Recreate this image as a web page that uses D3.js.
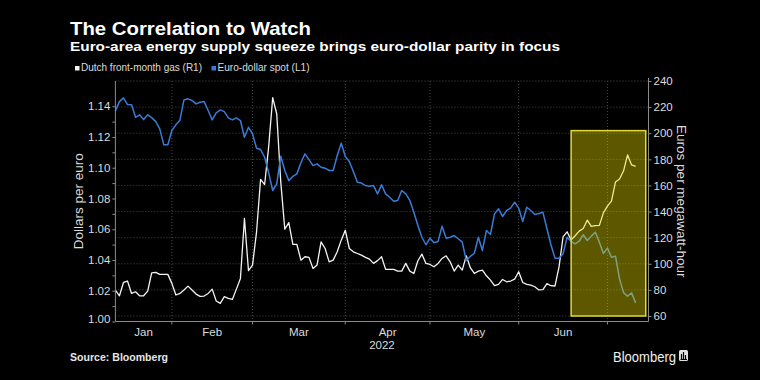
<!DOCTYPE html>
<html>
<head>
<meta charset="utf-8">
<script src="https://cdn.jsdelivr.net/npm/d3@7"></script>
<style>
  html, body { margin: 0; padding: 0; background: #000; }
  svg { display: block; }
  text { font-family: "Liberation Sans", Arial, sans-serif; }
</style>
</head>
<body>
<svg id="chart" width="760" height="380"></svg>
<script>
// Dutch front-month gas, euros per MWh (right axis), one value per trading day from Jan 11 2022
const gas = [
  79.9, 75.5, 85.7, 86.8, 77.3, 78.6, 75.5, 75.5, 79.1, 93.1,
  93.4, 91.9, 91.9, 91.9, 85.0, 76.1, 77.3, 79.9, 82.9, 79.9,
  76.8, 75.0, 75.3, 77.3, 80.6, 71.5, 69.7, 74.8, 73.5, 72.7,
  80.6, 88.8, 134.7, 94.7, 99.0, 124.5, 164.7, 160.7, 189.5, 227.2,
  214.9, 162.7, 126.5, 131.5, 114.8, 114.8, 102.8, 105.4, 104.9, 96.4,
  99.0, 116.8, 111.7, 101.5, 102.8, 109.2, 118.1, 125.7, 111.7, 109.2,
  107.9, 106.6, 104.9, 103.6, 100.3, 102.4, 105.4, 95.7, 95.7, 95.7,
  94.4, 94.4, 100.3, 94.4, 92.6, 102.3, 107.4, 100.3, 99.5, 97.7,
  100.3, 104.1, 106.1, 101.5, 94.4, 99.0, 95.2, 106.1, 97.0, 92.6,
  94.4, 95.2, 90.8, 87.5, 83.2, 84.2, 88.0, 86.2, 86.8, 88.3,
  93.9, 85.7, 84.2, 83.7, 82.4, 80.0, 80.2, 84.8, 83.2, 83.0,
  97.7, 120.6, 124.5, 118.3, 121.5, 125.0, 127.0, 133.4, 128.7, 129.3,
  129.4, 139.0, 144.2, 148.0, 162.7, 165.0, 171.2, 183.4, 175.7, 174.7
];
// Euro-dollar spot (left axis)
const eurusd = [
  1.1370, 1.1430, 1.1454, 1.1411, 1.1409, 1.1328, 1.1344, 1.1313, 1.1344, 1.1326,
  1.1300, 1.1253, 1.1149, 1.1149, 1.1242, 1.1279, 1.1309, 1.1441, 1.1448, 1.1437,
  1.1415, 1.1426, 1.1430, 1.1372, 1.1311, 1.1357, 1.1376, 1.1365, 1.1324, 1.1311,
  1.1324, 1.1307, 1.1198, 1.1263, 1.1220, 1.1127, 1.1118, 1.1068, 1.0967, 1.0852,
  1.0895, 1.1075, 1.0982, 1.0916, 1.0943, 1.0960, 1.1032, 1.1090, 1.1053, 1.1014,
  1.1025, 1.1003, 1.0997, 1.0982, 1.0982, 1.1079, 1.1159, 1.1073, 1.1040, 1.0975,
  1.0906, 1.0900, 1.0884, 1.0880, 1.0884, 1.0830, 1.0889, 1.0830, 1.0808, 1.0782,
  1.0787, 1.0852, 1.0830, 1.0787, 1.0711, 1.0624, 1.0548, 1.0499, 1.0542, 1.0512,
  1.0520, 1.0620, 1.0542, 1.0548, 1.0559, 1.0538, 1.0516, 1.0397, 1.0423, 1.0444,
  1.0548, 1.0462, 1.0592, 1.0566, 1.0700, 1.0733, 1.0683, 1.0722, 1.0737, 1.0776,
  1.0737, 1.0650, 1.0743, 1.0722, 1.0696, 1.0702, 1.0711, 1.0603, 1.0499, 1.0412,
  1.0412, 1.0440, 1.0548, 1.0520, 1.0505, 1.0522, 1.0564, 1.0527, 1.0555, 1.0581,
  1.0516, 1.0442, 1.0477, 1.0418, 1.0425, 1.0277, 1.0188, 1.0164, 1.0186, 1.0120
];
const startDate = "2022-01-11";
const monthNames = ["Jan", "Feb", "Mar", "Apr", "May", "Jun", "Jul", "Aug", "Sep", "Oct", "Nov", "Dec"];
const leftTicks = [1.00, 1.01, 1.02, 1.03, 1.04, 1.05, 1.06, 1.07, 1.08, 1.09, 1.10, 1.11, 1.12, 1.13, 1.14];
const rightTicks = [60, 80, 100, 120, 140, 160, 180, 200, 220, 240];
const highlight = { from: "2022-06-17", days: 18.5, low: 60, high: 202 };

const plot = { left: 115.4, right: 648.5, top: 81, bottom: 321.5 };
const svg = d3.select("#chart");

// trading days (weekdays) starting at startDate
const dates = [];
let day = d3.utcParse("%Y-%m-%d")(startDate);
while (dates.length < gas.length) {
  if (day.getUTCDay() !== 0 && day.getUTCDay() !== 6) dates.push(day);
  day = d3.utcDay.offset(day, 1);
}

const pxPerDay = 4.033;
const x = d3.scaleLinear()
  .domain([0, (plot.right - plot.left) / pxPerDay])
  .range([plot.left, plot.right]);
const yL = d3.scaleLinear().domain([1.0, 1.1564]).range([plot.bottom, plot.top]);
const yR = d3.scaleLinear().domain([55.8, 240]).range([plot.bottom, plot.top]);

// month boundaries sit on the last trading day of each month
const bounds = [];
for (let i = 1; i < dates.length; i++) {
  if (dates[i].getUTCMonth() !== dates[i - 1].getUTCMonth()) bounds.push(i - 1);
}

// grid
const grid = svg.append("g");
grid.selectAll(".hg")
  .data(rightTicks)
  .enter()
  .append("line")
  .attr("x1", plot.left)
  .attr("x2", plot.right)
  .attr("y1", d => yR(d))
  .attr("y2", d => yR(d))
  .attr("stroke", "#5a5a5a")
  .attr("stroke-width", 0.8)
  .attr("stroke-dasharray", "1,2");
grid.selectAll(".vg")
  .data(bounds)
  .enter()
  .append("line")
  .attr("x1", d => x(d))
  .attr("x2", d => x(d))
  .attr("y1", plot.top)
  .attr("y2", plot.bottom)
  .attr("stroke", "#5a5a5a")
  .attr("stroke-width", 0.8)
  .attr("stroke-dasharray", "1,2");

// lines
const gasLine = d3.line().x((d, i) => x(i)).y(d => yR(d));
const fxLine = d3.line().x((d, i) => x(i)).y(d => yL(d));
svg.append("path")
  .datum(gas)
  .attr("d", gasLine)
  .attr("fill", "none")
  .attr("stroke", "#f4f4f4")
  .attr("stroke-width", 1.3)
  .attr("stroke-linejoin", "round");
svg.append("path")
  .datum(eurusd)
  .attr("d", fxLine)
  .attr("fill", "none")
  .attr("stroke", "#3a7bd5")
  .attr("stroke-width", 1.5)
  .attr("stroke-linejoin", "round");

// highlight box
const hStart = dates.findIndex(d => d3.utcFormat("%Y-%m-%d")(d) === highlight.from);
svg.append("rect")
  .attr("x", x(hStart))
  .attr("y", yR(highlight.high))
  .attr("width", x(hStart + highlight.days) - x(hStart))
  .attr("height", yR(highlight.low) - yR(highlight.high))
  .attr("fill", "rgb(232,218,0)")
  .attr("fill-opacity", 0.4)
  .attr("stroke", "#e2da3c")
  .attr("stroke-width", 1.5);

// axes
const axisColor = "#8a8a8a";
const tickText = "#dcdcdc";
const tickFont = "11.5px";

const leftAxis = svg.append("g")
  .attr("transform", "translate(" + plot.left + ",0)")
  .call(d3.axisLeft(yL)
    .tickValues(leftTicks)
    .tickSize(3)
    .tickPadding(2)
    .tickFormat(d => Math.round(d * 100) % 2 === 0 ? d3.format(".2f")(d) : ""));
leftAxis.select(".domain").attr("d", "M0," + plot.top + "V" + plot.bottom);

const rightAxis = svg.append("g")
  .attr("transform", "translate(" + plot.right + ",0)")
  .call(d3.axisRight(yR).tickValues(rightTicks).tickSize(3).tickPadding(2));
rightAxis.select(".domain").attr("d", "M0," + (plot.top - 3) + "V" + plot.bottom);

[leftAxis, rightAxis].forEach(g => {
  g.selectAll(".domain").attr("stroke", axisColor);
  g.selectAll(".tick line").attr("stroke", axisColor);
  g.selectAll(".tick text")
    .attr("fill", tickText)
    .style("font-family", "'Liberation Sans', sans-serif")
    .style("font-size", tickFont);
});
leftAxis.selectAll(".tick text").filter(d => d === 1.0).attr("dy", "0.05em");

// bottom axis
const bottom = svg.append("g");
bottom.append("line")
  .attr("x1", plot.left).attr("x2", plot.right)
  .attr("y1", plot.bottom).attr("y2", plot.bottom)
  .attr("stroke", axisColor);
bottom.selectAll(".bt")
  .data(bounds)
  .enter()
  .append("line")
  .attr("x1", d => x(d)).attr("x2", d => x(d))
  .attr("y1", plot.bottom).attr("y2", plot.bottom + 3)
  .attr("stroke", axisColor);

const edges = [x.domain()[0]].concat(bounds, [x.domain()[1]]);
const segs = [];
for (let k = 0; k < edges.length - 1; k++) {
  const idx = Math.min(Math.ceil(edges[k] + 0.5), dates.length - 1);
  segs.push({ a: edges[k], b: edges[k + 1], m: dates[idx].getUTCMonth() });
}
bottom.selectAll(".ml")
  .data(segs.filter(s => s.b - s.a > 12))
  .enter()
  .append("text")
  .attr("x", s => (x(s.a) + x(s.b)) / 2)
  .attr("y", 335.5)
  .attr("text-anchor", "middle")
  .attr("fill", tickText)
  .style("font-size", tickFont)
  .text(s => monthNames[s.m]);
bottom.append("text")
  .attr("x", (plot.left + plot.right) / 2)
  .attr("y", 349)
  .attr("text-anchor", "middle")
  .attr("fill", tickText)
  .style("font-size", tickFont)
  .text(d3.utcFormat("%Y")(dates[0]));

// axis titles
svg.append("text")
  .attr("transform", "translate(83," + ((plot.top + plot.bottom) / 2) + ") rotate(-90)")
  .attr("text-anchor", "middle")
  .attr("fill", "#dcdcdc")
  .style("font-size", "13.5px")
  .text("Dollars per euro");
svg.append("text")
  .attr("transform", "translate(677," + ((plot.top + plot.bottom) / 2) + ") rotate(90)")
  .attr("text-anchor", "middle")
  .attr("fill", "#dcdcdc")
  .style("font-size", "13.5px")
  .text("Euros per megawatt-hour");

// header
svg.append("text")
  .attr("x", 70).attr("y", 35)
  .attr("fill", "#fff")
  .attr("font-weight", "bold")
  .attr("textLength", 241)
  .attr("lengthAdjust", "spacingAndGlyphs")
  .style("font-size", "19px")
  .text("The Correlation to Watch");
svg.append("text")
  .attr("x", 70).attr("y", 51)
  .attr("fill", "#fff")
  .attr("font-weight", "bold")
  .attr("textLength", 490)
  .attr("lengthAdjust", "spacingAndGlyphs")
  .style("font-size", "13.5px")
  .text("Euro-area energy supply squeeze brings euro-dollar parity in focus");

// legend
const legend = svg.append("g");
const legendItems = [
  { label: "Dutch front-month gas (R1)", color: "#f4f4f4", x: 75, w: 121 },
  { label: "Euro-dollar spot (L1)", color: "#3a7bd5", x: 211.5, w: 92 }
];
legendItems.forEach(it => {
  legend.append("rect")
    .attr("x", it.x).attr("y", 66)
    .attr("width", 4.5).attr("height", 4.5)
    .attr("fill", it.color);
  legend.append("text")
    .attr("x", it.x + 6).attr("y", 71)
    .attr("fill", "#dcdcdc")
    .attr("textLength", it.w)
    .attr("lengthAdjust", "spacingAndGlyphs")
    .style("font-size", "10px")
    .text(it.label);
});

// footer
svg.append("text")
  .attr("x", 70).attr("y", 361)
  .attr("fill", "#e6e6e6")
  .attr("font-weight", "bold")
  .attr("textLength", 98)
  .attr("lengthAdjust", "spacingAndGlyphs")
  .style("font-size", "10px")
  .text("Source: Bloomberg");
svg.append("text")
  .attr("x", 613).attr("y", 362)
  .attr("fill", "#f0f0f0")
  .attr("textLength", 63)
  .attr("lengthAdjust", "spacingAndGlyphs")
  .style("font-size", "14px")
  .text("Bloomberg");
svg.append("rect")
  .attr("x", 679).attr("y", 350)
  .attr("width", 9).attr("height", 11)
  .attr("rx", 1.5)
  .attr("fill", "#e0e0e0");
svg.append("path")
  .attr("d", "M681.5,359V354M683.5,359V352M685.5,359V355M680.5,359.5H687")
  .attr("stroke", "#000")
  .attr("stroke-width", 1.2);
</script>
</body>
</html>
